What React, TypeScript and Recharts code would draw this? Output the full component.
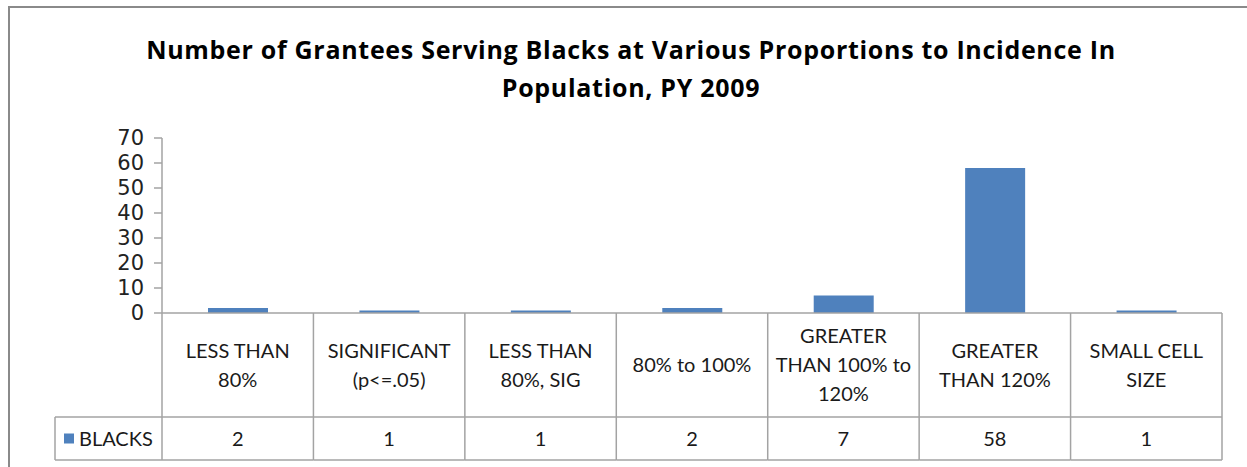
import { Bar, BarChart, XAxis, YAxis } from "recharts"

const categories = [
  "LESS THAN\n80%",
  "SIGNIFICANT\n(p<=.05)",
  "LESS THAN\n80%, SIG",
  "80% to 100%",
  "GREATER\nTHAN 100% to\n120%",
  "GREATER\nTHAN 120%",
  "SMALL CELL\nSIZE",
]
const blacks = [2, 1, 1, 2, 7, 58, 1]
const yTicks = [0, 10, 20, 30, 40, 50, 60, 70]
const seriesName = "BLACKS"
const title = ["Number of Grantees Serving Blacks at Various Proportions to Incidence In", "Population, PY 2009"]

const data = categories.map((c, i) => ({ name: c, blacks: blacks[i] }))

const W = 1247
const H = 467
const PLOT_LEFT = 162
const PLOT_RIGHT = 1222
const STEP = (PLOT_RIGHT - PLOT_LEFT) / categories.length
const ROW1 = 104 // header row height
const ROW2 = 43 // value row height
const BLUE = "#4F81BD"
const LINE = "#a3a3a3"
const FONT = "Lato, 'Open Sans', sans-serif"

function TableTick(props: any) {
  const { x, y, payload, index } = props
  const lines: string[] = String(payload.value).split("\n")
  const lh = 29
  const cy = y + ROW1 / 2
  const first = cy - ((lines.length - 1) * lh) / 2
  const left = x - STEP / 2
  const right = x + STEP / 2
  return (
    <g>
      <line x1={left} x2={left} y1={y} y2={y + ROW1 + ROW2} stroke={LINE} strokeWidth={1.5} />
      {index === categories.length - 1 && (
        <line x1={right} x2={right} y1={y} y2={y + ROW1 + ROW2} stroke={LINE} strokeWidth={1.5} />
      )}
      <line x1={left} x2={right} y1={y + ROW1} y2={y + ROW1} stroke={LINE} strokeWidth={1.5} />
      <line x1={left} x2={right} y1={y + ROW1 + ROW2} y2={y + ROW1 + ROW2} stroke={LINE} strokeWidth={1.5} />
      <text textAnchor="middle" fontFamily={FONT} fontSize={20} fill="#1a1a1a">
        {lines.map((l, i) => (
          <tspan key={i} x={x} y={first + i * lh} dy="0.35em">{l}</tspan>
        ))}
      </text>
      <text x={x} y={y + ROW1 + ROW2 / 2} dy="0.35em" textAnchor="middle" fontFamily={FONT} fontSize={20} fill="#1a1a1a">
        {blacks[index]}
      </text>
      {index === 0 && (
        <g>
          <line x1={55} x2={left} y1={y + ROW1} y2={y + ROW1} stroke={LINE} strokeWidth={1.5} />
          <line x1={55} x2={left} y1={y + ROW1 + ROW2} y2={y + ROW1 + ROW2} stroke={LINE} strokeWidth={1.5} />
          <line x1={55} x2={55} y1={y + ROW1} y2={y + ROW1 + ROW2} stroke={LINE} strokeWidth={1.5} />
          <rect x={64} y={y + ROW1 + ROW2 / 2 - 5} width={10} height={10} fill={BLUE} />
          <text x={79} y={y + ROW1 + ROW2 / 2} dy="0.35em" fontFamily={FONT} fontSize={20} fill="#1a1a1a">
            {seriesName}
          </text>
        </g>
      )}
    </g>
  )
}

export default function App() {
  return (
    <div style={{ position: "absolute", left: 0, top: 0, width: W, height: H, background: "#fff" }}>
      <div style={{ position: "absolute", left: 8, top: 6, width: W - 8, height: H - 6, borderLeft: "2px solid #8a8a8a", borderTop: "2px solid #8a8a8a" }} />
      <div
        style={{
          position: "absolute",
          left: 0,
          width: 1262,
          top: 30,
          textAlign: "center",
          fontFamily: "'Open Sans', sans-serif",
          fontWeight: 700,
          fontSize: 25,
          letterSpacing: "0.7px",
          lineHeight: "38px",
          color: "#000",
        }}
      >
        {title.map((t, i) => (
          <div key={i}>{t}</div>
        ))}
      </div>
      <div style={{ position: "absolute", left: 0, top: 0 }}>
        <BarChart
          width={W}
          height={H}
          data={data}
          margin={{ top: 138, right: W - PLOT_RIGHT, bottom: 7, left: PLOT_LEFT - 60 }}
        >
          <XAxis
            dataKey="name"
            height={ROW1 + ROW2}
            interval={0}
            tickSize={0}
            tickMargin={0}
            axisLine={{ stroke: LINE, strokeWidth: 1.5 }}
            tick={<TableTick />}
          />
          <YAxis
            width={60}
            domain={[0, 70]}
            ticks={yTicks}
            interval={0}
            tickSize={8}
            tickMargin={10}
            axisLine={{ stroke: LINE, strokeWidth: 1.5 }}
            tickLine={{ stroke: LINE, strokeWidth: 1.5 }}
            tick={{ fill: "#222", fontSize: 21, fontFamily: "'DejaVu Sans', sans-serif" }}
          />
          <Bar dataKey="blacks" fill={BLUE} barSize={60} isAnimationActive={false} />
        </BarChart>
      </div>
    </div>
  )
}
